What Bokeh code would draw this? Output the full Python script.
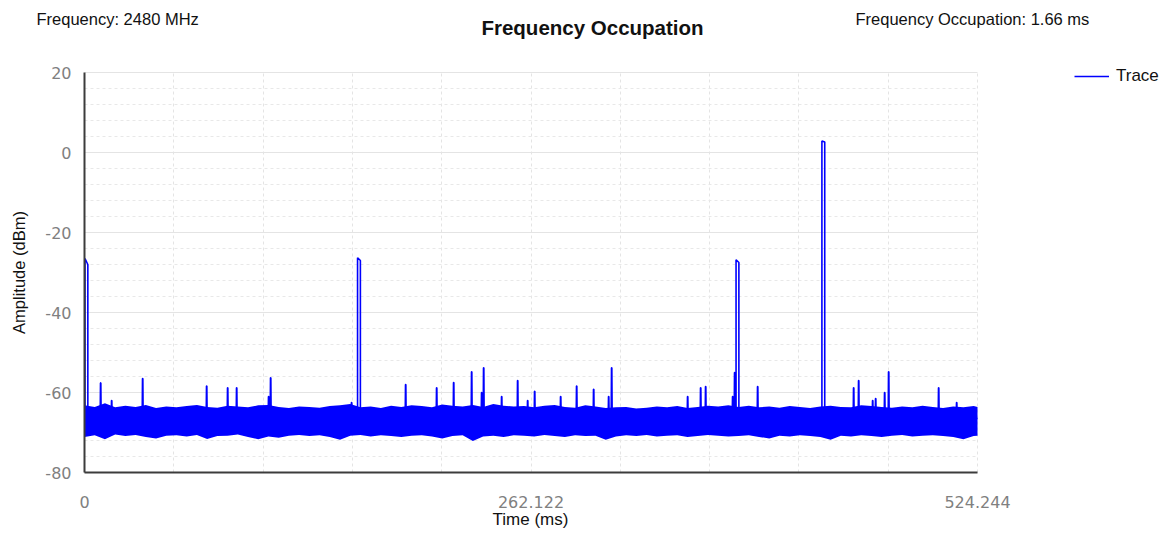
import math
from bokeh.plotting import figure
from bokeh.models import Range1d, FixedTicker, Label, Legend, LegendItem, Grid
from bokeh.embed import file_html
from bokeh.resources import INLINE

# ---------------- data ----------------
title_text = "Frequency Occupation"
freq_text = "Frequency: 2480 MHz"
occ_text = "Frequency Occupation: 1.66 ms"
x_label = "Time (ms)"
y_label = "Amplitude (dBm)"
series_name = "Trace"

x_max = 524.244
x_tick_values = [0, 262.122, 524.244]
x_tick_labels = ["0", "262.122", "524.244"]
y_min, y_max = -80, 20
y_tick_values = [-80, -60, -40, -20, 0, 20]
y_tick_labels = ["-80", "-60", "-40", "-20", "0", "20"]

floor_level = -66.5

# burst pulses (ms, dBm)
pulse_start = [0.3, 160.3, 382.5, 432.9]
pulse_width = 1.66
pulse_top_start = [-26.5, -26.3, -26.8, 2.9]
pulse_top_end = [-28.0, -27.0, -27.5, 2.6]

# narrow spikes above the noise floor (ms, dBm)
spike_t = [9.39, 15.85, 34.05, 71.62, 83.95, 89.23, 108.0, 109.19, 156.7,
           188.45, 206.65, 216.63, 227.19, 233.06, 234.24, 244.81, 254.2,
           260.07, 264.18, 279.44, 288.83, 298.81, 307.62, 309.38, 353.99,
           361.63, 364.56, 380.42, 381.59, 395.09, 451.45, 454.39, 462.61,
           464.37, 469.65, 472.0, 501.35, 511.92]
spike_db = [-57.6, -62.0, -56.5, -58.4, -58.8, -58.8, -61.0, -56.3, -62.5,
            -58.0, -58.8, -57.5, -54.8, -60.0, -53.8, -61.0, -57.0,
            -62.0, -59.7, -61.0, -58.4, -59.2, -61.0, -53.8, -61.0,
            -58.8, -58.5, -61.0, -55.0, -58.5, -58.8, -57.0, -62.0,
            -61.5, -60.0, -54.8, -58.8, -62.5]

# noise band envelope (ms, dBm)
band_t = [0, 6, 12, 18, 24, 30, 36, 42, 48, 54, 60, 66, 72, 78, 84, 90, 96,
          102, 108, 114, 120, 126, 132, 138, 144, 150, 156, 162, 168, 174,
          180, 186, 192, 198, 204, 210, 216, 222, 228, 234, 240, 246, 252,
          258, 264, 270, 276, 282, 288, 294, 300, 306, 312, 318, 324, 330,
          336, 342, 348, 354, 360, 366, 372, 378, 384, 390, 396, 402, 408,
          414, 420, 426, 432, 438, 444, 450, 456, 462, 468, 474, 480, 486,
          492, 498, 504, 510, 516, 522, 524.244]
band_hi = [-63.2, -63.6, -62.7, -63.7, -63.3, -63.6, -63.1, -63.9, -63.5, -63.7,
           -63.4, -63.1, -63.6, -63.8, -63.3, -63.5, -63.7, -63.2, -63.1, -63.6,
           -63.9, -63.5,
           -63.6, -63.8, -63.4, -63.2, -62.9, -63.7, -63.5, -63.9, -63.3, -63.6,
           -63.2, -63.4, -63.7, -63.0, -63.3, -63.5, -63.1, -63.6, -62.9, -63.3,
           -63.5,
           -63.4, -63.7, -63.3, -63.1, -63.6, -63.8, -63.2, -63.5, -63.9, -63.7,
           -63.6, -64.0, -63.8, -63.5, -63.7, -63.4, -63.9, -63.6, -63.3, -63.5,
           -63.2,
           -63.6, -63.3, -63.7, -63.5, -63.8, -63.4, -63.6, -63.9, -63.5, -63.3,
           -63.6, -63.7, -63.2, -63.4, -63.6, -63.8, -63.5, -63.7, -63.3, -63.6,
           -63.9, -63.5, -63.7, -63.4, -63.6]
band_lo = [-71.1, -70.7, -71.7, -70.5, -70.9, -70.6, -71.1, -71.5, -70.8, -70.7,
           -71.0, -70.6, -71.6, -70.9, -70.8, -70.5, -71.1, -71.7, -71.0, -71.3,
           -70.8, -70.6,
           -70.9, -70.7, -71.1, -71.8, -70.8, -70.6, -71.0, -70.7, -70.9, -71.1,
           -70.8, -70.7, -71.0, -71.5, -70.9, -70.7, -72.1, -71.0, -70.8, -71.1,
           -70.7,
           -70.8, -71.0, -70.6, -70.9, -71.1, -70.7, -70.9, -70.8, -71.8, -71.0,
           -70.7, -70.9, -70.6, -71.0, -70.8, -70.7, -71.1, -70.9, -70.6, -70.8,
           -71.0,
           -70.9, -70.7, -71.1, -71.5, -70.8, -71.0, -70.7, -70.9, -71.1, -71.8,
           -70.8, -71.0, -70.7, -70.9, -71.1, -70.8, -70.6, -71.0, -70.8, -70.7,
           -70.9, -71.1, -71.7, -70.9, -70.8]

# ---------------- build trace from events ----------------
events = []
for t0, a, b in zip(pulse_start, pulse_top_start, pulse_top_end):
    events.append((t0, [(t0, floor_level), (t0, a), (t0 + pulse_width, b),
                        (t0 + pulse_width, floor_level)]))
for t, v in zip(spike_t, spike_db):
    events.append((t, [(t - 0.2, floor_level), (t, v), (t + 0.2, v),
                       (t + 0.4, floor_level)]))
events.sort(key=lambda e: e[0])
trace_x, trace_y = [0.0], [floor_level]
for _, pts in events:
    for px, py in pts:
        trace_x.append(px)
        trace_y.append(py)
trace_x.append(x_max)
trace_y.append(floor_level)

# ---------------- layout geometry (pixels) ----------------
BLUE = "#0000FF"
FONT = "Liberation Sans"
W, H = 1163, 533
DL, DT = 84, 72             # canvas position of the data box's top-left corner
PX_W, PX_H = 893, 400       # pixel size of the data box (0..x_max, -80..20)
KX = x_max / PX_W           # ms per pixel
KY = (y_max - y_min) / PX_H  # dB per pixel
DB = H - DT - PX_H          # pixels below the data box

# the frame covers the whole canvas; axes are pinned to the data box edges
p = figure(width=W, height=H, output_backend="svg", toolbar_location=None,
           x_range=Range1d(-DL * KX, (W - DL) * KX),
           y_range=Range1d(y_min - DB * KY, y_max + DT * KY),
           min_border=0)
p.outline_line_color = None
p.background_fill_color = "white"
p.border_fill_color = "white"

# axes
p.xaxis.fixed_location = y_min
p.yaxis.fixed_location = 0
p.xaxis.ticker = FixedTicker(ticks=x_tick_values)
p.xaxis.major_label_overrides = {v: s for v, s in zip(x_tick_values, x_tick_labels)}
p.xaxis.bounds = (0, x_max)
p.yaxis.ticker = FixedTicker(ticks=y_tick_values)
p.yaxis.major_label_overrides = {v: s for v, s in zip(y_tick_values, y_tick_labels)}
p.yaxis.bounds = (y_min, y_max)
for ax in (p.xaxis, p.yaxis):
    ax.axis_line_color = "#3c3c3c"
    ax.axis_line_width = 2
    ax.major_tick_line_color = None
    ax.minor_tick_line_color = None
    ax.major_label_text_font = "DejaVu Sans"
    ax.major_label_text_font_size = "16px"
    ax.major_label_text_color = "#808080"
p.xaxis.major_label_standoff = 17
p.yaxis.major_label_standoff = 7

# grids
minor_y = [v for v in range(y_min, y_max + 1, 4) if v not in y_tick_values]
grid_x_ticks = [i * x_max / 10 for i in range(11)]
xg, yg = p.xgrid[0], p.ygrid[0]
yg.ticker = FixedTicker(ticks=y_tick_values, minor_ticks=minor_y)
yg.grid_line_color = "#e4e4e4"
yg.minor_grid_line_color = "#e8e8e8"
yg.minor_grid_line_dash = "3 3"
xg.ticker = FixedTicker(ticks=grid_x_ticks)
xg.grid_line_color = "#e4e4e4"
xg.grid_line_dash = "3 3"
if "cross_bounds" in Grid.properties():
    xg.bounds = (0, x_max)
    yg.bounds = (y_min, y_max)
    xg.cross_bounds = (y_min, y_max)
    yg.cross_bounds = (0, x_max)
else:
    xg.visible = False
    yg.visible = False
    p.segment(x0=grid_x_ticks, x1=grid_x_ticks, y0=[y_min] * 11, y1=[y_max] * 11,
              line_color="#e4e4e4", line_dash="3 3", level="underlay")
    p.segment(x0=[0] * len(y_tick_values), x1=[x_max] * len(y_tick_values),
              y0=y_tick_values, y1=y_tick_values, line_color="#e4e4e4",
              level="underlay")
    p.segment(x0=[0] * len(minor_y), x1=[x_max] * len(minor_y), y0=minor_y,
              y1=minor_y, line_color="#e8e8e8", line_dash="3 3", level="underlay")

# noise band + trace
p.varea(x=band_t, y1=band_lo, y2=band_hi, fill_color=BLUE, fill_alpha=1.0)
trace_r = p.line(trace_x, trace_y, line_color=BLUE, line_width=1.6)

legend = Legend(items=[LegendItem(label=series_name, renderers=[trace_r])],
                location=(DL + 990, DB + 386), padding=0, margin=0, spacing=0,
                glyph_width=35, glyph_height=20, label_standoff=7,
                label_text_font=FONT, label_text_font_size="17px",
                label_text_color="#111111",
                border_line_color=None, background_fill_alpha=0)
p.add_layout(legend)

# texts, placed by pixel offsets from the data box
def fx(px_from_left):
    return px_from_left * KX

def fy(px_above_top):
    return y_max + px_above_top * KY

def txt(x, y, s, size, bold=False, align="left", angle=0.0):
    p.add_layout(Label(x=x, y=y, text=s, angle=angle, text_font=FONT,
                       text_font_size=size,
                       text_font_style="bold" if bold else "normal",
                       text_color="#111111", text_align=align,
                       text_baseline="middle"))

txt(fx(-48), fy(54), freq_text, "16.5px")
txt(fx(771), fy(54), occ_text, "16.5px")
txt(fx(508), fy(45), title_text, "20.5px", bold=True, align="center")
txt(fx(446), fy(-447), x_label, "17px", align="center")
txt(fx(-66), fy(-200), y_label, "16.5px", align="center", angle=math.pi / 2)

open("out.html", "w").write(file_html(p, INLINE))
